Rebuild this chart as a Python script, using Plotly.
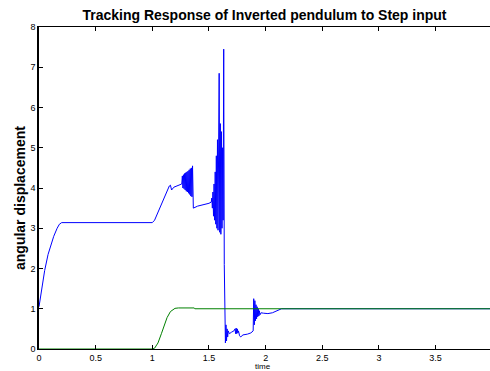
import plotly.graph_objects as go

# Blue curve: angular displacement (pendulum response)
blue_t = [0, 0.02, 0.05, 0.08, 0.10, 0.13, 0.16, 0.18, 0.20, 1.00,
          1.02, 1.05, 1.08, 1.12, 1.15, 1.16, 1.17, 1.19, 1.23, 1.26,
          1.265, 1.27, 1.275, 1.28, 1.285, 1.29, 1.295, 1.30, 1.305, 1.31,
          1.315, 1.32, 1.325, 1.33, 1.335, 1.34, 1.345, 1.35, 1.355, 1.36,
          1.362, 1.40, 1.45, 1.50, 1.52,
          1.525, 1.53, 1.535, 1.54, 1.545, 1.55, 1.555, 1.56, 1.565, 1.57,
          1.575, 1.58, 1.585, 1.59, 1.595, 1.60, 1.605, 1.61, 1.615, 1.62,
          1.625, 1.63, 1.635, 1.64,
          1.645, 1.65, 1.655, 1.66, 1.665, 1.67, 1.68, 1.70, 1.72, 1.73,
          1.735, 1.74, 1.745, 1.75, 1.755, 1.76, 1.77, 1.78, 1.80, 1.84,
          1.87, 1.89, 1.895, 1.90, 1.905, 1.91, 1.915, 1.92, 1.925, 1.93,
          1.935, 1.94, 1.945, 1.95, 1.96, 1.98, 2.02, 2.06, 2.10, 2.14, 3.98]
blue_y = [1.05, 1.45, 1.95, 2.35, 2.55, 2.80, 3.00, 3.10, 3.14, 3.14,
          3.20, 3.40, 3.60, 3.85, 4.05, 4.07, 3.95, 4.02, 4.07, 4.10,
          4.30, 4.00, 4.33, 3.98, 4.36, 3.95, 4.38, 3.92, 4.40, 3.90,
          4.42, 3.87, 4.45, 3.84, 4.48, 3.80, 4.50, 3.78, 4.55, 3.75,
          3.50, 3.55, 3.58, 3.62, 3.65,
          3.75, 3.50, 3.90, 3.30, 4.10, 3.20, 4.40, 3.10, 4.80, 3.00,
          5.20, 2.95, 5.50, 6.85, 2.90, 5.60, 2.85, 5.40, 3.00, 5.00,
          3.20, 7.45, 2.10, 0.15,
          0.15, 0.60, 0.20, 0.50, 0.30, 0.45, 0.38, 0.42, 0.45, 0.50,
          0.38, 0.52, 0.38, 0.50, 0.40, 0.45, 0.33, 0.30, 0.35, 0.37,
          0.40, 0.45, 1.25, 0.60, 1.20, 0.70, 1.10, 0.75, 1.05, 0.80,
          1.00, 0.82, 0.95, 0.85, 0.90, 0.89, 0.88, 0.90, 0.95, 1.00, 1.00]

# Green curve: step reference (filtered)
green_t = [0, 1.00, 1.02, 1.05, 1.08, 1.10, 1.13, 1.16, 1.20, 1.23, 1.37, 1.375, 3.98]
green_y = [0, 0, 0.02, 0.15, 0.38, 0.55, 0.78, 0.93, 1.01, 1.02, 1.02, 1.00, 1.00]

x_ticks = [0, 0.5, 1, 1.5, 2, 2.5, 3, 3.5]
x_tick_labels = ["0", "0.5", "1", "1.5", "2", "2.5", "3", "3.5"]
y_ticks = [0, 1, 2, 3, 4, 5, 6, 7, 8]

FONT = "Liberation Sans, Arial, Helvetica, sans-serif"
W, H = 490, 371
L, R, T, B = 39, 0, 27, 22
PW, PH = W - L - R, H - T - B

fig = go.Figure()
fig.add_trace(go.Scatter(x=blue_t, y=blue_y, mode="lines",
                         line=dict(color="#0000ff", width=1), showlegend=False))
fig.add_trace(go.Scatter(x=green_t, y=green_y, mode="lines",
                         line=dict(color="#008000", width=1), showlegend=False))

fig.update_layout(
    width=W, height=H,
    margin=dict(l=L, r=R, t=T, b=B, autoexpand=False),
    paper_bgcolor="white", plot_bgcolor="white",
    font=dict(family=FONT, size=9, color="black"),
    title=dict(text="<b>Tracking Response of Inverted pendulum to Step input</b>",
               x=0.5, xref="paper", xanchor="center",
               y=1 - 15 / H, yref="container", yanchor="middle",
               font=dict(family=FONT, size=14, color="black")),
    xaxis=dict(range=[0, 3.98], tickvals=x_ticks, ticktext=x_tick_labels,
               ticks="inside", ticklen=4, tickcolor="black",
               showline=True, linecolor="black", linewidth=1, mirror="ticks",
               showgrid=False, zeroline=False, automargin=False,
               tickfont=dict(family=FONT, size=9, color="black")),
    yaxis=dict(range=[0, 8], tickvals=y_ticks,
               ticks="inside", ticklen=4, tickcolor="black",
               showline=True, linecolor="black", linewidth=1.5,
               showgrid=False, zeroline=False, automargin=False,
               tickfont=dict(family=FONT, size=9, color="black")),
    annotations=[
        dict(text="<b>angular displacement</b>", textangle=-90,
             xref="paper", yref="paper", x=(20 - L) / PW, y=(H - B - 198) / PH,
             xanchor="center", yanchor="middle", showarrow=False,
             font=dict(family=FONT, size=14, color="black")),
        dict(text="time", xref="paper", yref="paper",
             x=(263 - L) / PW, y=(H - B - 360) / PH,
             xanchor="center", yanchor="top", showarrow=False,
             font=dict(family=FONT, size=8, color="black")),
    ],
)

fig.write_html("out.html", config={"displayModeBar": False},
               post_script="document.body.style.margin='0';document.body.style.overflow='hidden';")
